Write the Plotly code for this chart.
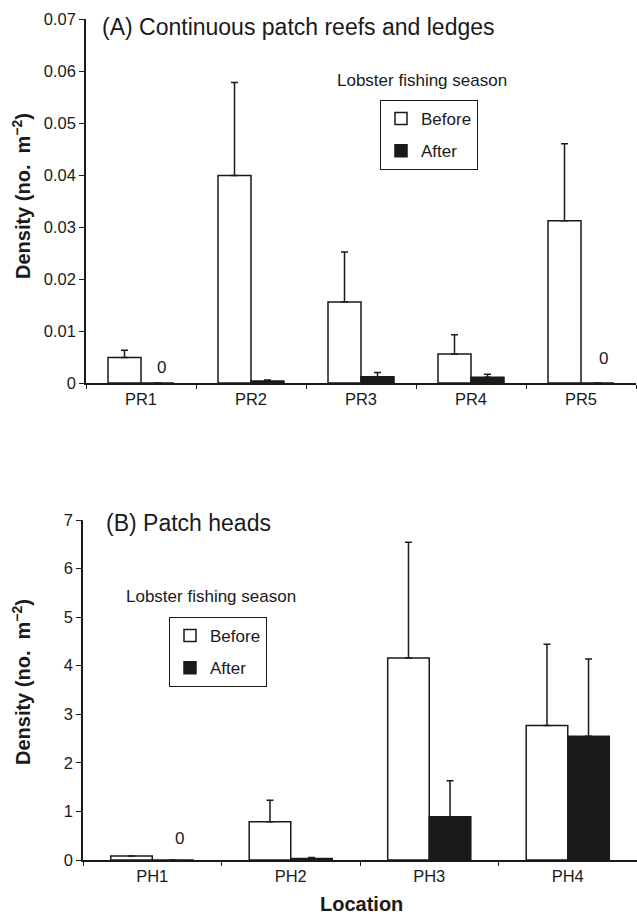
import plotly.graph_objects as go

# ---- data ----
sites_a = ["PR1", "PR2", "PR3", "PR4", "PR5"]
before_a = [0.0049, 0.0399, 0.0156, 0.0056, 0.0312]
before_a_err = [0.0014, 0.0179, 0.0096, 0.0037, 0.0148]
after_a = [0.0, 0.0004, 0.0012, 0.0011, 0.0]
after_a_err = [0.0, 0.0002, 0.0008, 0.0006, 0.0]

sites_b = ["PH1", "PH2", "PH3", "PH4"]
before_b = [0.08, 0.79, 4.16, 2.77]
before_b_err = [0.0, 0.44, 2.38, 1.67]
after_b = [0.0, 0.03, 0.89, 2.55]
after_b_err = [0.0, 0.02, 0.74, 1.59]

yticks_a = [0, 0.01, 0.02, 0.03, 0.04, 0.05, 0.06, 0.07]
yticklabels_a = ["0", "0.01", "0.02", "0.03", "0.04", "0.05", "0.06", "0.07"]
yticks_b = [0, 1, 2, 3, 4, 5, 6, 7]

FONT = "Liberation Sans, Arial, sans-serif"
INK = "#1a1a1a"
W, H = 637, 914

fig = go.Figure()

def err(arr):
    return dict(type="data", array=arr, arrayminus=[0] * len(arr), symmetric=False,
                color=INK, thickness=1.5, width=3.5)

# Panel A
fig.add_trace(go.Bar(x=sites_a, y=before_a, name="Before", error_y=err(before_a_err),
                     marker=dict(color="white", line=dict(color=INK, width=1.5)),
                     xaxis="x", yaxis="y", legend="legend", legendgroup="b1"))
fig.add_trace(go.Bar(x=sites_a, y=after_a, name="After", error_y=err(after_a_err),
                     marker=dict(color=INK, line=dict(color=INK, width=1.5)),
                     xaxis="x", yaxis="y", legend="legend", legendgroup="a1"))
# Panel B
fig.add_trace(go.Bar(x=sites_b, y=before_b, name="Before", error_y=err(before_b_err),
                     marker=dict(color="white", line=dict(color=INK, width=1.5)),
                     xaxis="x2", yaxis="y2", legend="legend2", legendgroup="b2"))
fig.add_trace(go.Bar(x=sites_b, y=after_b, name="After", error_y=err(after_b_err),
                     marker=dict(color=INK, line=dict(color=INK, width=1.5)),
                     xaxis="x2", yaxis="y2", legend="legend2", legendgroup="a2"))

axis_common = dict(showline=True, linecolor=INK, linewidth=1.5, ticks="outside",
                   tickcolor=INK, tickwidth=1.2, showgrid=False, zeroline=False,
                   tickfont=dict(family=FONT, size=16.5, color=INK), automargin=False)

fig.update_layout(
    width=W, height=H,
    margin=dict(l=0, r=0, t=0, b=0),
    paper_bgcolor="white", plot_bgcolor="white",
    barmode="group", bargap=0.4, bargroupgap=0,
    font=dict(family=FONT, color=INK),
    xaxis=dict(domain=[86 / W, 636 / W], anchor="y", tickson="boundaries", ticklen=4,
               **axis_common),
    yaxis=dict(domain=[1 - 383 / H, 1 - 19 / H], anchor="x", range=[0, 0.07], ticklen=5,
               tickvals=yticks_a, ticktext=yticklabels_a, **axis_common),
    xaxis2=dict(domain=[83 / W, 1.0], anchor="y2", tickson="boundaries", ticklen=4,
                **axis_common),
    yaxis2=dict(domain=[1 - 860 / H, 1 - 520 / H], anchor="x2", range=[0, 7], ticklen=5,
                tickvals=yticks_b, ticktext=[str(v) for v in yticks_b], **axis_common),
    legend=dict(x=380 / W, y=1 - 100 / H, xanchor="left", yanchor="top",
                bgcolor="white", bordercolor=INK, borderwidth=1,
                font=dict(family=FONT, size=17, color=INK), tracegroupgap=7,
                itemwidth=30),
    legend2=dict(x=169 / W, y=1 - 617 / H, xanchor="left", yanchor="top",
                 bgcolor="white", bordercolor=INK, borderwidth=1,
                 font=dict(family=FONT, size=17, color=INK), tracegroupgap=7,
                 itemwidth=30),
    showlegend=True,
)

ytitle_text = "<b>Density (no.  m<sup>−2</sup>)</b>"
annos = [
    dict(text="(A) Continuous patch reefs and ledges", xref="paper", yref="paper",
         x=100 / W, y=1 - 27 / H, xanchor="left", yanchor="middle", showarrow=False,
         font=dict(family=FONT, size=23, color=INK)),
    dict(text="(B) Patch heads", xref="paper", yref="paper",
         x=104 / W, y=1 - 523 / H, xanchor="left", yanchor="middle", showarrow=False,
         font=dict(family=FONT, size=23, color=INK)),
    dict(text="Lobster fishing season", xref="paper", yref="paper",
         x=335 / W, y=1 - 80 / H, xanchor="left", yanchor="middle", showarrow=False,
         font=dict(family=FONT, size=17, color=INK)),
    dict(text="Lobster fishing season", xref="paper", yref="paper",
         x=124 / W, y=1 - 596 / H, xanchor="left", yanchor="middle", showarrow=False,
         font=dict(family=FONT, size=17, color=INK)),
    # axis titles
    dict(text=ytitle_text, xref="paper", yref="paper", x=22 / W, y=1 - 196 / H,
         xanchor="center", yanchor="middle", textangle=-90, showarrow=False,
         font=dict(family=FONT, size=20, color=INK)),
    dict(text=ytitle_text, xref="paper", yref="paper", x=21 / W, y=1 - 682 / H,
         xanchor="center", yanchor="middle", textangle=-90, showarrow=False,
         font=dict(family=FONT, size=20, color=INK)),
    dict(text="<b>Location</b>", xref="paper", yref="paper", x=361 / W, y=1 - 904 / H,
         xanchor="center", yanchor="middle", showarrow=False,
         font=dict(family=FONT, size=20, color=INK)),
    # zero labels for After bars with no lobsters
    dict(text="0", xref="x", yref="y", x=sites_a[0], y=0, xshift=20, yshift=16,
         showarrow=False, font=dict(family=FONT, size=17, color=INK)),
    dict(text="0", xref="x", yref="y", x=sites_a[4], y=0, xshift=22, yshift=25,
         showarrow=False, font=dict(family=FONT, size=17, color=INK)),
    dict(text="0", xref="x2", yref="y2", x=sites_b[0], y=0, xshift=27, yshift=22,
         showarrow=False, font=dict(family=FONT, size=17, color=INK)),
]
fig.update_layout(annotations=annos)

fig.write_html("out.html")
